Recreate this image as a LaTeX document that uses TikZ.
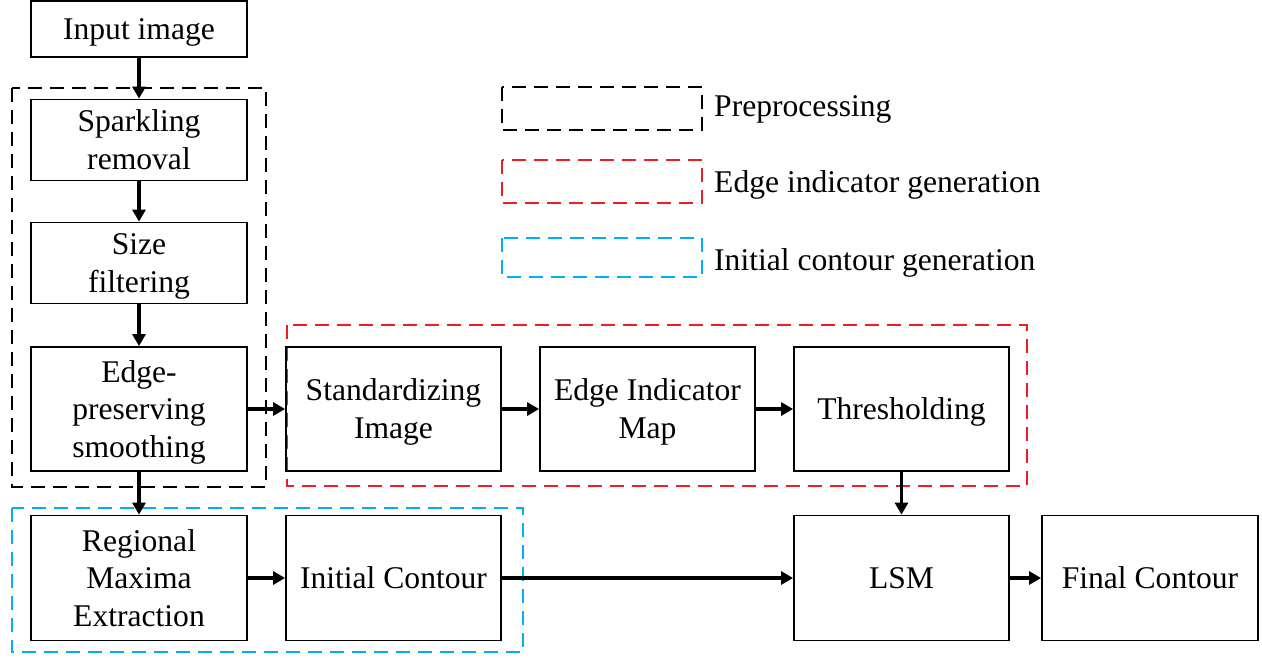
\documentclass[tikz,border=0pt]{standalone}
\usepackage{fontspec}
\setmainfont{Liberation Serif}
\usetikzlibrary{arrows.meta}
\definecolor{dred}{RGB}{235,30,36}
\definecolor{dblue}{RGB}{0,176,240}
\newcommand\bxt[1]{\raisebox{0pt}[\dimexpr\height+6pt\relax][\depth]{\begin{tabular}{@{}c@{}}#1\end{tabular}}}
\tikzset{
  box/.style={draw, line width=1.8pt, inner sep=0pt,
    font=\fontsize{31.6}{37.5}\selectfont},
  grp/.style={line width=2.4pt, dash pattern=on 14pt off 8pt},
  arr/.style={line width=3.5pt, -{Triangle[length=12pt,width=13pt]}},
  legtxt/.style={anchor=west, inner sep=0pt, font=\fontsize{31.6}{37.5}\selectfont}
}
\begin{document}
\begin{tikzpicture}[x=1pt,y=-1pt]
\useasboundingbox (0,0) rectangle (1262,657);
% group frames
\draw[grp] (12,88) rectangle (266,487);
\draw[grp, dred] (287,325) rectangle (1027,486);
\draw[grp, dblue] (12,508) rectangle (523,652);
% boxes
\node[box, minimum width=216pt, minimum height=56pt] (inp) at (139,29) {\bxt{Input image}};
\node[box, minimum width=216pt, minimum height=80pt] (spk) at (139,140) {\bxt{Sparkling\\removal}};
\node[box, minimum width=216pt, minimum height=80pt] (siz) at (139,263) {\bxt{Size\\filtering}};
\node[box, minimum width=216pt, minimum height=124pt] (eps) at (139,409) {\bxt{Edge-\\preserving\\smoothing}};
\node[box, minimum width=215pt, minimum height=124pt] (std) at (393.5,409) {\bxt{Standardizing\\Image}};
\node[box, minimum width=215pt, minimum height=124pt] (eim) at (647.5,409) {\bxt{Edge Indicator\\Map}};
\node[box, minimum width=215pt, minimum height=124pt] (thr) at (901.5,409) {\bxt{Thresholding}};
\node[box, minimum width=216pt, minimum height=125pt] (rme) at (139,578) {\bxt{Regional\\Maxima\\Extraction}};
\node[box, minimum width=215pt, minimum height=125pt] (ini) at (393.5,578) {\bxt{Initial Contour}};
\node[box, minimum width=215pt, minimum height=125pt] (lsm) at (901.5,578) {\bxt{LSM}};
\node[box, minimum width=216pt, minimum height=125pt] (fin) at (1150,578) {\bxt{Final Contour}};
% arrows
\draw[arr] (inp) -- (spk);
\draw[arr] (spk) -- (siz);
\draw[arr] (siz) -- (eps);
\draw[arr] (eps) -- (std);
\draw[arr] (std) -- (eim);
\draw[arr] (eim) -- (thr);
\draw[arr] (eps) -- (rme);
\draw[arr] (rme) -- (ini);
\draw[arr] (ini) -- (lsm);
\draw[arr] (thr) -- (lsm);
\draw[arr] (lsm) -- (fin);
% legend
\draw[grp] (502,87) rectangle (702,130);
\draw[grp, dred] (502,160) rectangle (702,203);
\draw[grp, dblue] (502,238) rectangle (702,277);
\node[legtxt] (l1) at (714,109) {Preprocessing};
\node[legtxt] (l2) at (714,185) {Edge indicator generation};
\node[legtxt] (l3) at (714,263) {Initial contour generation};
\end{tikzpicture}
\end{document}
